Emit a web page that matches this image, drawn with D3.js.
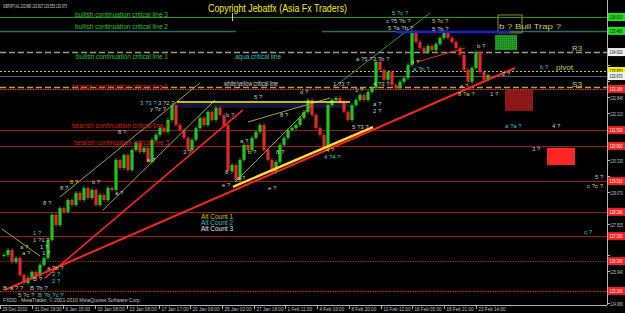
<!DOCTYPE html>
<html><head><meta charset="utf-8">
<script src="https://cdn.jsdelivr.net/npm/d3@7"></script>
<style>body{margin:0;background:#000;overflow:hidden}svg{display:block}</style>
</head><body><svg id="c" width="625" height="313"></svg>
<script>
// ---------------- DATA ----------------
const closes = [126.58,126.78,126.30,126.46,125.79,125.47,125.67,125.91,125.75,126.19,
126.46,127.18,128.17,127.77,128.44,128.29,128.76,128.56,129.04,128.76,
129.24,128.84,129.16,128.56,128.96,128.76,129.24,129.16,130.35,130.03,
130.54,129.95,130.74,131.02,130.66,130.82,130.27,131.14,131.34,131.61,
131.46,131.93,132.52,131.73,131.53,131.22,130.74,131.14,131.61,132.01,
131.73,132.25,131.93,132.41,132.13,131.73,129.95,130.15,129.55,130.35,
130.94,130.74,131.22,131.46,131.73,130.74,130.35,129.87,130.27,130.94,
131.22,131.53,131.61,131.73,132.01,132.25,132.72,132.13,131.61,131.34,
130.82,132.52,132.72,132.80,132.64,132.25,131.93,132.52,132.72,132.92,
132.72,133.04,133.20,134.23,133.91,133.52,133.83,133.32,133.20,133.44,
133.59,134.11,135.42,135.02,134.78,134.62,134.86,134.70,134.94,135.18,
135.38,135.18,135.02,134.78,134.51,133.91,133.44,133.99,134.62,133.83,
133.52,133.71];

const priceTicks = [124.680,125.310,125.940,126.570,127.200,127.815,128.440,129.070,129.700,
130.330,130.960,131.580,132.210,132.840,133.470,134.100,134.730,135.360,135.990];

const dateLabels = ["29 Dec 2010","31 Dec 19:00","6 Jan 15:00","10 Jan 08:00","13 Jan 08:00",
"17 Jan 17:00","20 Jan 09:00","25 Jan 02:00","27 Jan 18:00","1 Feb 11:00","4 Feb 03:00",
"8 Feb 20:00","11 Feb 12:00","16 Feb 05:00","18 Feb 21:00","23 Feb 14:00"];

// horizontal levels
const levelNames  = ["bull3","bull2","R3","pivot","bid","S3","bear1","bear2","bear3","lvl4","lvl5","lvl6","lvl7","lvl8"];
const levelPrices = [136.01,135.46,134.62,133.87,133.67,133.24,133.16,131.53,130.90,129.51,128.29,127.33,126.34,125.16];

// trend lines [i1,p1,i2,p2]
const redLines    = [[0.25,125.20,127.75,133.99]];
const redSteep    = [[10.25,125.67,59.75,132.33]];
const yellowLines = [[57.25,129.28,92.25,131.65]];
const greenLines  = [[82.25,133.20,106.5,136.17]];
const blueLines   = [[98,135.42,126.5,135.42]];
const oliveLines  = [[14,128.88,49,133.40],[24.75,128.36,52.75,132.72],[57.75,129.47,77,132.52],
                     [61,131.85,81.5,132.80],[-0.5,127.61,9,126.54]];
const thinRedLines= [[103.25,134.23,115.25,134.78]];
const yellowFlat  = [[43.25,132.64,86.5,132.64]];

// boxes [i1,p1,i2,p2]
const boxes = {
  green:[122.75,135.30,128.25,134.70],
  trap:[123.5,136.09,129.5,135.38],
  darkred:[125.25,133.12,132.25,132.29],
  red:[135.75,130.82,142.75,130.15],
  navy:[43.25,132.60,86.5,132.41]
};

// wave labels
const waveText = ["3 ?3 ?","3 ?2 ?","y ?z ?","5 ?c ?","c ?5 ?b ?","5 ?a ?b ?","a ?5 ?3 ?b ?","1 ?3 ?","4 ?3 ?","1 ?","d ?","5 ?",
"5 ?c ?","5 ?b ?","b ?","b ?","4 ?","a ?b ?","a ?","8 ?a ?","1 ?","2 ?","a ?a ?","4 ?","3 ?","5 ?","c ?c ?","c ?",
"b ?","8 ?","a ?","b ?","8 ?","a ?","e ?","e ?","8 ?","4 ?","4 ?4 ?","5 ?3 ?","a ?","2 ?",
"8 ?","8 ?","b ?","a ?","8 ?","8 ?","3 ?","a ?",
"1 ?","1 ?1 ?","a ?","1 ?","a ?","1 ?","a ?b ?","2 ?","2 ?","B ?","B","a ? ?","B","?b ?","5 ?c ?","B","?b ?c ?"];
const waveIdx = [34,38.5,36.5,97,95.5,96,88,82.25,92.25,87.75,74,62.5,
107,107,118.25,134,101.75,102.25,114,113.5,121.5,124.5,125.25,137,132,147.75,145.75,145,
55.5,69,59,61,55.25,58.25,54.5,66,68,80.5,80,87,92.25,92.25,
28.5,16.5,22,35.75,14,9.75,44.75,27.75,
7.25,7.25,4,9,4.5,9.5,10.75,12,12,7.25,-0.25,1.5,6.5,8,3.5,8.5,10];
const wavePrice = [132.60,132.60,132.37,136.17,135.85,135.58,134.35,133.36,133.36,133.12,133.04,132.84,
135.85,135.54,134.86,134.03,134.23,133.95,133.28,132.96,132.96,133.75,131.69,131.69,130.78,129.67,129.32,127.49,
132.13,132.13,131.10,130.66,129.87,129.63,129.36,129.24,130.66,130.74,130.46,131.65,132.56,132.29,
131.46,129.47,129.47,130.35,129.24,128.64,130.66,129.04,
127.45,127.18,126.90,126.90,126.66,126.66,126.07,125.83,125.55,125.63,125.27,125.27,125.27,125.27,125.00,125.00,125.00];
const waveCount = ["a","w","w","a","w","w","w","w","w","w","w","w",
"k","w","w","a","w","a","w","k","w","w","a","w","w","w","k","a",
"w","w","w","w","w","w","w","w","w","k","a","w","w","w",
"w","k","w","w","w","k","w","w",
"a","w","k","w","k","w","k","a","a","w","k","w","w","w","w","a","a"];

const altCounts = ["Alt Count 1","Alt Count 2","Alt Count 3"];

// ---------------- DRAW ----------------
const svg = d3.select("#c");
const FONT = "'Liberation Sans', Arial, sans-serif";
const W = 625, H = 313, plotR = 607, plotB = 305;

const x = d3.scaleLinear().domain([0, closes.length - 1]).range([4, 488]);
const y = d3.scaleLinear().domain([124.68, 134.10]).range([303, 65.2]);

svg.append("rect").attr("width", W).attr("height", H).attr("fill", "#000");

const levelStyle = {
  bull3:{c:"#1f9a1f",w:1,d:null},
  bull2:{c:"#2a6a6a",w:1.5,d:null},
  R3:{c:"#9a9a86",w:1.3,d:"6,3"},
  pivot:{c:"#c8c832",w:1,d:"2,2"},
  bid:{c:"#4f5b6a",w:1.2,d:null},
  S3:{c:"#b4a24a",w:1.3,d:"6,3"},
  bear1:{c:"#ff3a1a",w:1,d:"1.5,1"},
  bear2:{c:"#a01414",w:1,d:null},
  bear3:{c:"#a01414",w:1,d:null},
  lvl4:{c:"#a01414",w:1,d:null},
  lvl5:{c:"#a01414",w:1,d:null},
  lvl6:{c:"#a01414",w:1,d:null},
  lvl7:{c:"#7a3010",w:1,d:"1.5,1"},
  lvl8:{c:"#e02020",w:1,d:"1.5,1"}
};
const gL = svg.append("g");
levelNames.forEach((n, k) => {
  const s = levelStyle[n];
  gL.append("line").attr("x1", 0).attr("x2", plotR)
    .attr("y1", Math.round(y(levelPrices[k])) + 0.5).attr("y2", Math.round(y(levelPrices[k])) + 0.5)
    .attr("stroke", s.c).attr("stroke-width", s.w).attr("stroke-dasharray", s.d);
});
// small gap in line 2 with faint label
gL.append("rect").attr("x", 236).attr("y", y(levelPrices[1]) - 2).attr("width", 86).attr("height", 4).attr("fill", "#000");
gL.append("text").attr("x", 240).attr("y", y(levelPrices[1]) + 2).attr("font-family", FONT).attr("font-size", 4.5)
  .attr("fill", "#3a3a3a").attr("textLength", 76).text("- - - - - - - - - - - - - - - - - - - - - -");

// boxes
const bx = (b) => ({x: x(b[0]), y: y(b[1]), w: x(b[2]) - x(b[0]), h: y(b[3]) - y(b[1])});
const defs = svg.append("defs");
const pat = defs.append("pattern").attr("id","hatchG").attr("width",2).attr("height",2).attr("patternUnits","userSpaceOnUse");
pat.append("rect").attr("width",2).attr("height",2).attr("fill","#1c8a1c");
pat.append("rect").attr("width",1).attr("height",1).attr("fill","#2fa82f");
const pat2 = defs.append("pattern").attr("id","hatchR").attr("width",2).attr("height",2).attr("patternUnits","userSpaceOnUse");
pat2.append("rect").attr("width",2).attr("height",2).attr("fill","#8a1414");
pat2.append("rect").attr("width",1).attr("height",1).attr("fill","#9e2020");
let b;
b = bx(boxes.navy);   svg.append("rect").attr("x",b.x).attr("y",b.y).attr("width",b.w).attr("height",b.h).attr("fill","#14143c");
b = bx(boxes.green);  svg.append("rect").attr("x",b.x).attr("y",b.y).attr("width",b.w).attr("height",b.h).attr("fill","url(#hatchG)");
b = bx(boxes.darkred);svg.append("rect").attr("x",b.x).attr("y",b.y).attr("width",b.w).attr("height",b.h).attr("fill","url(#hatchR)");
b = bx(boxes.red);    svg.append("rect").attr("x",b.x).attr("y",b.y).attr("width",b.w).attr("height",b.h).attr("fill","#ff2626");
b = bx(boxes.trap);   svg.append("rect").attr("x",b.x).attr("y",b.y).attr("width",b.w).attr("height",b.h).attr("fill","none").attr("stroke","#8a8a30").attr("stroke-width",1);

// candles (open = previous close)
const gC = svg.append("g");
closes.forEach((c, i) => {
  const o = i === 0 ? c : closes[i - 1];
  const up = c >= o;
  const y1 = y(Math.max(o, c)), y2 = y(Math.min(o, c));
  gC.append("rect").attr("x", x(i) - 1.6).attr("y", y1).attr("width", 3.2).attr("height", Math.max(1, y2 - y1))
    .attr("fill", up ? "#22c422" : "#e02828");
  gC.append("line").attr("x1", x(i)).attr("x2", x(i)).attr("y1", y1 - 2).attr("y2", y2 + 2)
    .attr("stroke", up ? "#22c422" : "#e02828").attr("stroke-width", 0.8);
});

// trend lines
function drawLines(arr, color, width) {
  arr.forEach(l => svg.append("line").attr("x1", x(l[0])).attr("y1", y(l[1])).attr("x2", x(l[2])).attr("y2", y(l[3]))
    .attr("stroke", color).attr("stroke-width", width));
}
drawLines(oliveLines, "#a4a03c", 1);
drawLines(yellowFlat, "#ffff14", 1.6);
drawLines(greenLines, "#2aa02a", 1);
drawLines(blueLines, "#1a1aff", 2);
drawLines(redLines, "#ff2424", 2);
drawLines(redSteep, "#ff2424", 1.6);
drawLines(yellowLines, "#ffd83a", 2.4);
drawLines(thinRedLines, "#e03030", 1);

// yellow marker near top
svg.append("line").attr("x1",232.5).attr("x2",232.5).attr("y1",13).attr("y2",21).attr("stroke","#e0e000").attr("stroke-width",1);

// wave labels
const waveColor = {a:"#3cc4c4", w:"#c4c4c4", k:"#c8c864"};
const gW = svg.append("g").attr("font-family", FONT).attr("font-size", 6);
waveText.forEach((t, k) => {
  gW.append("text").attr("x", x(waveIdx[k])).attr("y", y(wavePrice[k]) + 2)
    .attr("fill", waveColor[waveCount[k]]).text(t);
});

// level texts
const lt = svg.append("g").attr("font-family", FONT).attr("font-size", 6.6);
function ltext(xp, yp, txt, col, len) {
  lt.append("text").attr("x", xp).attr("y", yp).attr("fill", col).attr("textLength", len)
    .attr("lengthAdjust", "spacingAndGlyphs").text(txt);
}
ltext(75, 16.5, "bullish continuation critical line 3", "#2cc02c", 93);
ltext(75, 28.5, "bullish continuation critical line 2", "#2cc02c", 93);
ltext(76, 58.5, "bullish continuation critical line 1", "#2cc02c", 92);
ltext(235, 58.5, "aqua critical line", "#30b8c0", 46);
ltext(224, 85.5, "white/yellow critical line", "#d8d8d8", 54);
ltext(72, 88.5, "bearish continuation critical line 1", "#d02020", 96);
ltext(72, 127.5, "bearish continuation critical line 2", "#d02020", 97);
ltext(74, 144.5, "bearish continuation critical line 3", "#d02020", 95);
ltext(572, 51, "R3", "#c8c864", 10);
ltext(556, 70, "pivot", "#c8c864", 17);
ltext(572, 87, "S3", "#c8c864", 10);
lt.append("text").attr("x", 499).attr("y", 29).attr("fill", "#c8c864").attr("font-size", 7.5)
  .attr("textLength", 62).attr("lengthAdjust","spacingAndGlyphs").text("b ? Bull Trap ?");

// alt counts
const altCol = ["#c8c800", "#30c0c0", "#e0e0e0"];
altCounts.forEach((t, k) => {
  svg.append("text").attr("x", 201).attr("y", 219 + k * 6).attr("font-family", FONT).attr("font-size", 7)
    .attr("fill", altCol[k]).attr("textLength", 32).attr("lengthAdjust","spacingAndGlyphs").text(t);
});

// header texts
svg.append("text").attr("x", 3).attr("y", 8).attr("font-family", FONT).attr("font-size", 5.6).attr("fill", "#d8d8d8")
  .attr("textLength", 64).attr("lengthAdjust","spacingAndGlyphs").text("GBPJPY,H1 133.860 133.827 133.555 133.675");
svg.append("text").attr("x", 208).attr("y", 11.5).attr("font-family", FONT).attr("font-size", 10).attr("fill", "#f0f000")
  .attr("textLength", 139).attr("lengthAdjust","spacingAndGlyphs").text("Copyright Jebatfx (Asia Fx Traders)");
svg.append("text").attr("x", 3).attr("y", 302).attr("font-family", FONT).attr("font-size", 5.6).attr("fill", "#c0c0c0")
  .attr("textLength", 138).attr("lengthAdjust","spacingAndGlyphs").text("FXDD - MetaTrader, © 2001-2010 MetaQuotes Software Corp.");

// axes frame
svg.append("line").attr("x1", plotR + 0.5).attr("x2", plotR + 0.5).attr("y1", 0).attr("y2", plotB).attr("stroke", "#b0b0b0");
svg.append("line").attr("x1", 0).attr("x2", plotR).attr("y1", plotB + 0.5).attr("y2", plotB + 0.5).attr("stroke", "#b0b0b0");

// highlighted level positions (to hide colliding tick labels)
const hlStyle = {bull3:["#22dd22","#000"], bull2:["#22dd22","#000"], R3:["#f0f0f0","#000"], pivot:["#f0f000","#000"],
  bid:["#f0f0f0","#000"], S3:null, bear1:["#ee2020","#fff"], bear2:["#ee2020","#fff"], bear3:["#ee2020","#fff"],
  lvl4:["#ee2020","#fff"], lvl5:["#ee2020","#fff"], lvl6:["#ee2020","#fff"], lvl7:["#ee2020","#fff"], lvl8:["#ee2020","#fff"]};
const hlY = levelNames.filter(n => hlStyle[n]).map(n => y(levelPrices[levelNames.indexOf(n)]));

// price ticks
const gT = svg.append("g").attr("font-family", FONT).attr("font-size", 5.4).attr("fill", "#c0c0c0");
priceTicks.forEach(v => {
  const yy = Math.round(y(v)) + 0.5;
  gT.append("line").attr("x1", plotR).attr("x2", plotR + 3).attr("y1", yy).attr("y2", yy).attr("stroke", "#b0b0b0");
  if (hlY.some(h => Math.abs(h - yy) < 8)) return;
  gT.append("text").attr("x", 610).attr("y", yy + 2).attr("textLength", 13).attr("lengthAdjust","spacingAndGlyphs").text(v.toFixed(3));
});

levelNames.forEach((n, k) => {
  const s = hlStyle[n]; if (!s) return;
  const yy = y(levelPrices[k]);
  svg.append("rect").attr("x", 608).attr("y", yy - 4).attr("width", 17).attr("height", 8).attr("fill", s[0]);
  svg.append("text").attr("x", 609.5).attr("y", yy + 2).attr("font-family", FONT).attr("font-size", 5.4)
    .attr("fill", s[1]).attr("textLength", 13).attr("lengthAdjust","spacingAndGlyphs").text(levelPrices[k].toFixed(3));
});

// date axis
const barsPerLabel = 7.93;
const gD = svg.append("g").attr("font-family", FONT).attr("font-size", 5).attr("fill", "#c0c0c0");
dateLabels.forEach((t, k) => {
  const xx = Math.round(x(k * barsPerLabel - 0.5)) - 2 + 0.5;
  gD.append("line").attr("x1", xx).attr("x2", xx).attr("y1", plotB).attr("y2", plotB + 4).attr("stroke", "#b0b0b0");
  gD.append("text").attr("x", xx + 2).attr("y", 311).attr("textLength", t.length * 2.25)
    .attr("lengthAdjust","spacingAndGlyphs").text(t);
});
</script></body></html>
